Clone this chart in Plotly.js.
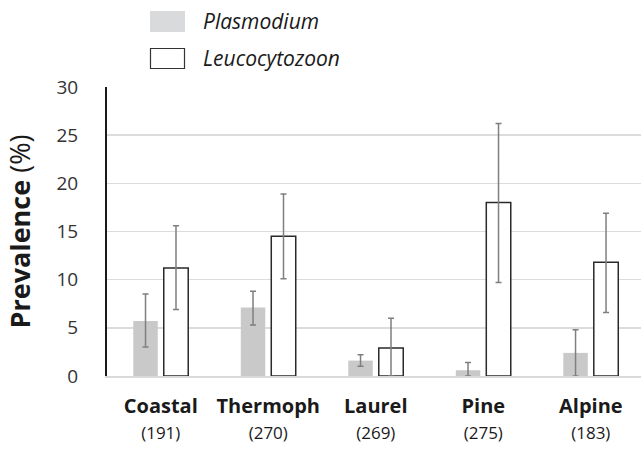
<!DOCTYPE html>
<html>
<head>
<meta charset="utf-8">
<script src="https://cdn.plot.ly/plotly-3.0.1.min.js"></script>
<style>html,body{margin:0;padding:0;background:#fff;}#chart{width:641px;height:449px;}</style>
</head>
<body>
<div id="chart"></div>
<script>
// Data
const habitats = ["Coastal", "Thermoph", "Laurel", "Pine", "Alpine"];
const sampleSizes = [191, 270, 269, 275, 183];
const plasmodium = [5.7, 7.1, 1.6, 0.6, 2.4];
const plasmodiumUpper = [8.5, 8.8, 2.2, 1.4, 4.8];
const plasmodiumLower = [3.0, 5.3, 1.0, 0.0, 0.0];
const leucocytozoon = [11.2, 14.5, 2.9, 18.0, 11.8];
const leucocytozoonUpper = [15.6, 18.9, 6.0, 26.2, 16.9];
const leucocytozoonLower = [6.9, 10.1, 0.0, 9.7, 6.6];
const yTicks = [0, 5, 10, 15, 20, 25, 30];

const tickText = habitats.map((h, i) => "<b>" + h + "</b><br><span style='font-size:17px;font-weight:normal'>(" + sampleSizes[i] + ")</span>");

const errStyle = {type: "data", symmetric: false, color: "#7f7f7f", thickness: 1.5, width: 3};

const traces = [
  {
    type: "bar", name: "Plasmodium", x: habitats, y: plasmodium,
    marker: {color: "#c9c9c9", line: {width: 0}},
    error_y: Object.assign({}, errStyle, {
      array: plasmodium.map((v, i) => plasmodiumUpper[i] - v),
      arrayminus: plasmodium.map((v, i) => v - plasmodiumLower[i])
    }),
    showlegend: false, hoverinfo: "none"
  },
  {
    type: "bar", name: "Leucocytozoon", x: habitats, y: leucocytozoon,
    marker: {color: "#ffffff", line: {color: "#2a2a2a", width: 1.5}},
    error_y: Object.assign({}, errStyle, {
      array: leucocytozoon.map((v, i) => leucocytozoonUpper[i] - v),
      arrayminus: leucocytozoon.map((v, i) => v - leucocytozoonLower[i])
    }),
    showlegend: false, hoverinfo: "none"
  }
];

const W = 641, H = 449;
const layout = {
  width: W, height: H,
  margin: {l: 107, r: 0, t: 87, b: 73, pad: 0},
  paper_bgcolor: "#ffffff", plot_bgcolor: "#ffffff",
  font: {family: "Open Sans, sans-serif", color: "#262626"},
  barmode: "group", bargap: 0.433, bargroupgap: 0.197,
  showlegend: false,
  xaxis: {
    type: "category",
    range: [-0.5, 4.467],
    tickvals: habitats, ticktext: tickText,
    tickfont: {size: 20, color: "#1a1a1a"},
    showgrid: false, zeroline: false,
    showline: true, linecolor: "#d9d9d9", linewidth: 1.5,
    ticks: "", ticklabelstandoff: 11,
    fixedrange: true, automargin: false
  },
  yaxis: {
    range: [0, 30], tickvals: yTicks,
    tickfont: {size: 19, color: "#333333"},
    showgrid: true, gridcolor: "#dcdcdc", gridwidth: 1.5,
    zeroline: false,
    showline: true, linecolor: "#1a1a1a", linewidth: 2,
    ticks: "", ticklabelstandoff: 23,
    title: {text: "<b>Prevalence</b> (%)", font: {size: 27, color: "#1a1a1a"}, standoff: 18},
    fixedrange: true, automargin: false
  },
  shapes: [
    {type: "rect", xref: "paper", yref: "paper", x0: (150 - 107) / 534, x1: (185 - 107) / 534,
     y0: (H - 73 - 32) / 289, y1: (H - 73 - 11) / 289, fillcolor: "#d9dadc", line: {width: 0}},
    {type: "rect", xref: "paper", yref: "paper", x0: (150.5 - 107) / 534, x1: (184.5 - 107) / 534,
     y0: (H - 73 - 68.5) / 289, y1: (H - 73 - 48.5) / 289, fillcolor: "#ffffff", line: {color: "#333333", width: 1.2}}
  ],
  annotations: [
    {xref: "paper", yref: "paper", x: (201 - 107) / 534, y: (H - 73 - 21) / 289, xanchor: "left", yanchor: "middle",
     text: "<i>Plasmodium</i>", showarrow: false, font: {size: 21, color: "#1a1a1a"}},
    {xref: "paper", yref: "paper", x: (201 - 107) / 534, y: (H - 73 - 58) / 289, xanchor: "left", yanchor: "middle",
     text: "<i>Leucocytozoon</i>", showarrow: false, font: {size: 21, color: "#1a1a1a"}}
  ]
};

Plotly.newPlot("chart", traces, layout, {staticPlot: true, displayModeBar: false});
</script>
</body>
</html>
